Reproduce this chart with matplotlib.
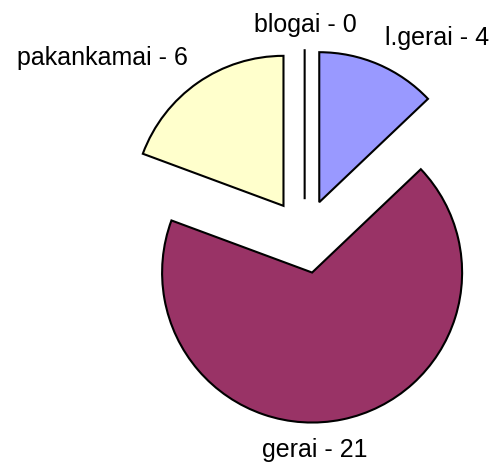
import matplotlib
matplotlib.use("Agg")
import matplotlib.pyplot as plt

plt.rcParams['font.family'] = ['Liberation Sans', 'DejaVu Sans']

# data
categories = ['l.gerai', 'gerai', 'pakankamai', 'blogai']
values = [4, 21, 6, 0]
colors = ['#9999FF', '#993366', '#FFFFCC', '#CCFFFF']

# label anchor points (data units, radius = 1), baseline aligned
label_x = [0.885, 0.069, -1.348, 0.002]
label_y = [1.275, -1.469, 1.142, 1.364]

fig = plt.figure(figsize=(4.95, 4.65), dpi=100)
ax = fig.add_axes([0, 0, 1, 1])

wedges, _ = ax.pie(values, colors=colors, startangle=90, counterclock=False,
                   explode=[0.247] * len(values), radius=1,
                   wedgeprops=dict(edgecolor='black', linewidth=1.5))

for name, v, x, y in zip(categories, values, label_x, label_y):
    ax.text(x, y, '%s - %d' % (name, v), ha='center', va='baseline',
            fontsize=18, color='black')

ax.set_xlim(-2.031, 1.269)
ax.set_ylim(-1.525, 1.575)
ax.set_aspect('equal')
ax.axis('off')

fig.savefig('out.png', dpi=100, facecolor='white')
